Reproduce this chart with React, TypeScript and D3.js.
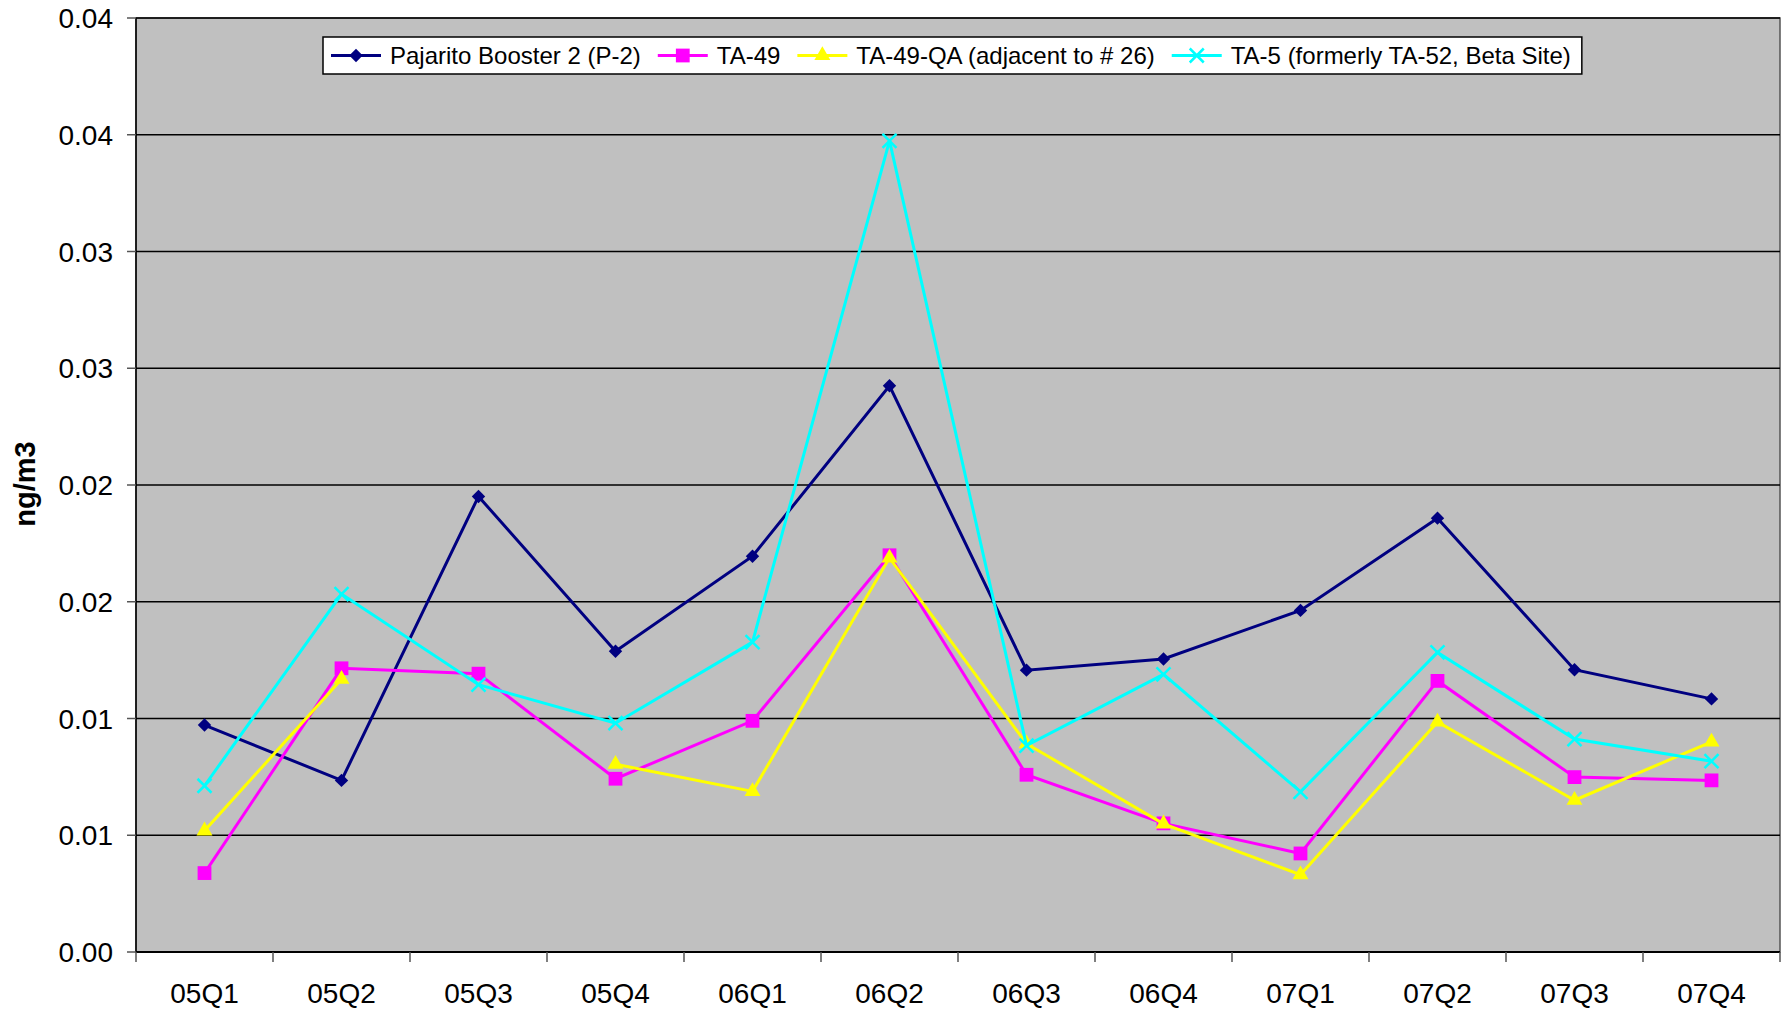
import React, { useEffect, useRef } from 'react';
import * as d3 from 'd3';

// quarters on the x axis
const categories = ['05Q1', '05Q2', '05Q3', '05Q4', '06Q1', '06Q2', '06Q3', '06Q4', '07Q1', '07Q2', '07Q3', '07Q4'];

// values (ng/m3)
const pajarito = [0.00972, 0.00735, 0.01951, 0.01288, 0.01695, 0.02425, 0.01207, 0.01255, 0.01463, 0.01858, 0.01209, 0.01084];
const ta49 = [0.00338, 0.01215, 0.01192, 0.00742, 0.0099, 0.01699, 0.00759, 0.00551, 0.00422, 0.01161, 0.00749, 0.00735];
const ta49qa = [0.00519, 0.01168, null, 0.00804, 0.00688, 0.01688, 0.00892, 0.00549, 0.00331, 0.00985, 0.0065, 0.009];
const ta5 = [0.00712, 0.01533, 0.01145, 0.0098, 0.01327, 0.03474, 0.00884, 0.01189, 0.00686, 0.01283, 0.00912, 0.00817];

const seriesNames = ['Pajarito Booster 2 (P-2)', 'TA-49', 'TA-49-QA (adjacent to # 26)', 'TA-5 (formerly TA-52, Beta Site)'];

// y ticks every 0.005, labels rounded to 2 decimals like the original
const yTicks = [0, 0.005, 0.01, 0.015, 0.02, 0.025, 0.03, 0.035, 0.04];
const yTickLabels = ['0.00', '0.01', '0.01', '0.02', '0.02', '0.03', '0.03', '0.04', '0.04'];

const W = 1784, H = 1013;
const FONT = 'Liberation Sans, Arial, sans-serif';

const App = () => {
  const ref = useRef<SVGSVGElement>(null);

  useEffect(() => {
    const svg = d3.select(ref.current);
    svg.selectAll('*').remove();

    const left = 136, right = 1780, top = 18, bottom = 952;
    const x = d3.scaleBand().domain(categories).range([left, right]);
    const y = d3.scaleLinear().domain([0, 0.04]).range([bottom, top]);

    // plot area
    svg.append('rect')
      .attr('x', left).attr('y', top)
      .attr('width', right - left).attr('height', bottom - top)
      .attr('fill', '#c0c0c0')
      .attr('stroke', '#555').attr('stroke-width', 1.5);

    // gridlines
    svg.append('g').selectAll('line')
      .data(yTicks.slice(1))
      .enter().append('line')
      .attr('x1', left).attr('x2', right)
      .attr('y1', d => y(d)).attr('y2', d => y(d))
      .attr('stroke', '#000').attr('stroke-width', 1.3);

    // y axis
    const yAxis = svg.append('g');
    yAxis.append('line')
      .attr('x1', left).attr('x2', left).attr('y1', top).attr('y2', bottom)
      .attr('stroke', '#000').attr('stroke-width', 1.5);
    yAxis.selectAll('.ytick')
      .data(yTicks)
      .enter().append('line')
      .attr('x1', left - 9).attr('x2', left)
      .attr('y1', d => y(d)).attr('y2', d => y(d))
      .attr('stroke', '#555').attr('stroke-width', 1.5);
    yAxis.selectAll('text')
      .data(yTicks)
      .enter().append('text')
      .attr('x', 113).attr('y', d => y(d)).attr('dy', '0.36em')
      .attr('text-anchor', 'end')
      .style('font-family', FONT).style('font-size', '28px')
      .text((d, i) => yTickLabels[i]);

    // x axis
    const xAxis = svg.append('g');
    xAxis.append('line')
      .attr('x1', left).attr('x2', right).attr('y1', bottom).attr('y2', bottom)
      .attr('stroke', '#000').attr('stroke-width', 2);
    const bounds = categories.map(c => x(c) as number).concat([right]);
    xAxis.selectAll('.xtick')
      .data(bounds)
      .enter().append('line')
      .attr('x1', d => d).attr('x2', d => d)
      .attr('y1', bottom).attr('y2', bottom + 10)
      .attr('stroke', '#555').attr('stroke-width', 1.5);
    xAxis.selectAll('text')
      .data(categories)
      .enter().append('text')
      .attr('x', d => (x(d) as number) + x.bandwidth() / 2)
      .attr('y', 1003)
      .attr('text-anchor', 'middle')
      .style('font-family', FONT).style('font-size', '28px')
      .text(d => d);

    // y title
    svg.append('text')
      .attr('transform', 'translate(35,484) rotate(-90)')
      .attr('text-anchor', 'middle')
      .style('font-family', FONT).style('font-size', '29px').style('font-weight', 'bold')
      .text('ng/m3');

    const cx = (i: number) => (x(categories[i]) as number) + x.bandwidth() / 2;

    const diamond = d3.symbol(d3.symbolSquare, 90)();
    const square = d3.symbol(d3.symbolSquare, 190)();
    const triangle = d3.symbol(d3.symbolTriangle, 110)();
    const cross = 'M-7,-7L7,7M-7,7L7,-7';

    const series = [
      { name: seriesNames[0], values: pajarito, color: '#000080', marker: diamond, rot: 45, stroke: false },
      { name: seriesNames[1], values: ta49, color: '#ff00ff', marker: square, rot: 0, stroke: false },
      { name: seriesNames[2], values: ta49qa, color: '#ffff00', marker: triangle, rot: 0, stroke: false },
      { name: seriesNames[3], values: ta5, color: '#00ffff', marker: cross, rot: 0, stroke: true },
    ];

    const line = d3.line<number | null>()
      .defined(d => d !== null)
      .x((d, i) => cx(i))
      .y(d => y(d as number));

    const drawMarker = (g: any, s: any, px: number, py: number) => {
      const m = g.append('path')
        .attr('d', s.marker)
        .attr('transform', `translate(${px},${py}) rotate(${s.rot})`);
      if (s.stroke) m.attr('fill', 'none').attr('stroke', s.color).attr('stroke-width', 2.5);
      else m.attr('fill', s.color);
    };

    series.forEach(s => {
      const g = svg.append('g');
      g.append('path')
        .datum(s.values)
        .attr('d', line)
        .attr('fill', 'none')
        .attr('stroke', s.color)
        .attr('stroke-width', 3);
      s.values.forEach((v, i) => {
        if (v === null) return;
        drawMarker(g, s, cx(i), y(v));
      });
    });

    // legend
    const lg = svg.append('g');
    const box = lg.append('rect')
      .attr('y', 37).attr('height', 37)
      .attr('fill', '#fff').attr('stroke', '#000').attr('stroke-width', 1.5);
    let lx = 331;
    const ly = 55.5;
    series.forEach(s => {
      lg.append('line')
        .attr('x1', lx).attr('x2', lx + 50).attr('y1', ly).attr('y2', ly)
        .attr('stroke', s.color).attr('stroke-width', 3);
      drawMarker(lg, s, lx + 25, ly);
      const t = lg.append('text')
        .attr('x', lx + 59).attr('y', ly).attr('dy', '0.36em')
        .style('font-family', FONT).style('font-size', '24px')
        .text(s.name);
      const tw = (t.node() as SVGTextElement).getComputedTextLength();
      lx = lx + 59 + tw + 17;
    });
    box.attr('x', 323).attr('width', lx - 17 + 11 - 323);
  }, []);

  return (
    <div style={{ position: 'absolute', left: 0, top: 0 }}>
      <svg ref={ref} width={W} height={H} style={{ display: 'block', background: '#fff' }} />
    </div>
  );
};

export default App;
